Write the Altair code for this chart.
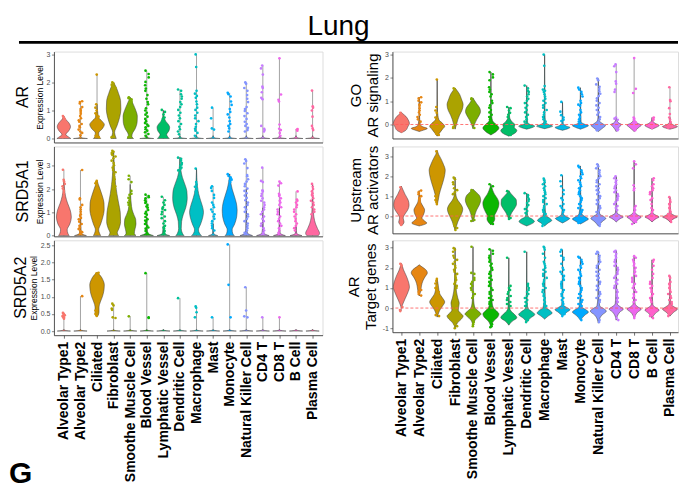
import altair as alt
import pandas as pd

cats = ["Alveolar Type1", "Alveolar Type2", "Ciliated", "Fibroblast", "Smoothe Muscle Cell",
        "Blood Vessel", "Lymphatic Vessel", "Dendritic Cell", "Macrophage", "Mast", "Monocyte",
        "Natural Killer Cell", "CD4 T", "CD8 T", "B Cell", "Plasma Cell"]
palette = ["#F8766D", "#E68613", "#CD9600", "#ABA300", "#7CAE00", "#0CB702", "#00BE67", "#00C19A",
           "#00BFC4", "#00B8E7", "#00A9FF", "#8494FF", "#C77CFF", "#ED68ED", "#FF61CC", "#FF68A1"]

# violin outlines: (value, half-width in category units)
spike0 = [(0.0, 0.42), (0.03, 0.08), (0.1, 0.01)]
flat0 = [(0.0, 0.4), (0.025, 0.05), (0.05, 0.0)]

ar_shapes = [
    [(0, 0.42), (0.05, 0.3), (0.14, 0.12), (0.28, 0.3), (0.42, 0.4), (0.56, 0.3), (0.68, 0.12), (0.8, 0.0)],
    spike0,
    [(0, 0.22), (0.08, 0.12), (0.2, 0.1), (0.35, 0.32), (0.5, 0.44), (0.62, 0.3), (0.75, 0.1), (1.0, 0.03), (1.22, 0.0)],
    [(0, 0.16), (0.1, 0.1), (0.22, 0.06), (0.45, 0.2), (0.75, 0.36), (1.05, 0.44), (1.35, 0.42), (1.6, 0.3), (1.85, 0.14), (2.0, 0.0)],
    [(0, 0.2), (0.08, 0.1), (0.16, 0.12), (0.35, 0.3), (0.6, 0.42), (0.8, 0.43), (1.0, 0.34), (1.2, 0.2), (1.35, 0.09), (1.47, 0.0)],
    spike0,
    [(0, 0.36), (0.05, 0.28), (0.14, 0.2), (0.28, 0.34), (0.4, 0.38), (0.52, 0.28), (0.62, 0.14), (0.78, 0.04), (1.0, 0.0)],
    spike0, spike0, spike0, spike0, spike0, spike0, spike0, spike0, spike0,
]
ar_points = [
    [0.8, 0.75, 0.72, 0.68, 0.6, 0.05],
    [1.33, 1.3, 1.25, 1.12, 1.05, 1.0, 0.95, 0.88, 0.8, 0.72, 0.65, 0.6, 0.52, 0.45, 0.4, 0.32, 0.25, 0.2, 0.12],
    [2.28, 1.22, 1.1, 1.0, 0.9, 0.85, 0.78, 0.1, 0.05],
    [2.0, 1.96, 1.92, 1.88, 1.85, 1.8, 1.76, 0.05],
    [1.47, 1.44, 1.4, 1.35, 1.3, 1.27, 0.05],
    [2.42, 2.3, 2.18, 2.02, 1.9, 1.78, 1.7, 1.55, 1.42, 1.3, 1.22, 1.08, 1.0, 0.92, 0.85, 0.78, 0.7, 0.62, 0.55, 0.5, 0.45, 0.4, 0.33, 0.28, 0.22, 0.16, 0.1],
    [1.02, 0.95, 0.86, 0.75, 0.7, 0.62, 0.55, 0.48],
    [1.75, 1.7, 1.58, 1.5, 1.42, 1.3, 1.22, 1.12, 1.02, 0.92, 0.82, 0.72, 0.62, 0.52, 0.42, 0.33, 0.25, 0.15],
    [3.0, 2.55, 1.7, 1.6, 1.52, 1.45, 1.32, 1.22, 1.1, 1.02, 0.92, 0.82, 0.72, 0.62, 0.52, 0.42, 0.35, 0.28, 0.2, 0.1],
    [1.1, 0.72, 0.36, 0.32],
    [1.63, 1.58, 1.5, 1.32, 1.2, 1.05, 0.95, 0.86, 0.75, 0.62, 0.52, 0.45, 0.36, 0.25],
    [2.0, 1.95, 1.8, 1.7, 1.55, 1.42, 1.3, 1.12, 1.05, 0.98, 0.9, 0.8, 0.7, 0.6, 0.52, 0.45, 0.38, 0.3, 0.25],
    [2.6, 2.5, 2.28, 1.85, 1.8, 1.65, 1.45, 1.4, 0.45, 0.35, 0.3, 0.25],
    [2.86, 1.57, 1.38, 1.32, 0.5, 0.35, 0.3, 0.2, 0.1],
    [0.34, 0.31, 0.28],
    [1.71, 1.15, 1.1, 1.0, 0.78, 0.45, 0.36, 0.3],
]

s1_shapes = [
    [(0, 0.32), (0.1, 0.24), (0.25, 0.2), (0.5, 0.36), (0.8, 0.45), (1.1, 0.38), (1.4, 0.22), (1.7, 0.1), (2.0, 0.04), (2.4, 0.0)],
    [(0, 0.36), (0.04, 0.2), (0.1, 0.06), (0.4, 0.03), (1.2, 0.01)],
    [(0, 0.22), (0.1, 0.15), (0.25, 0.1), (0.5, 0.22), (0.8, 0.35), (1.1, 0.43), (1.4, 0.42), (1.7, 0.32), (2.0, 0.18), (2.2, 0.08), (2.37, 0.0)],
    [(0, 0.3), (0.12, 0.22), (0.3, 0.32), (0.6, 0.42), (1.0, 0.4), (1.4, 0.3), (1.8, 0.2), (2.2, 0.12), (2.6, 0.07), (3.0, 0.04), (3.62, 0.0)],
    [(0, 0.35), (0.1, 0.25), (0.25, 0.28), (0.5, 0.35), (0.7, 0.33), (0.9, 0.22), (1.1, 0.12), (1.4, 0.06), (1.8, 0.02), (2.2, 0.0)],
    [(0, 0.4), (0.05, 0.2), (0.1, 0.06), (0.3, 0.03), (0.8, 0.01)],
    [(0, 0.38), (0.05, 0.16), (0.1, 0.05), (0.4, 0.02)],
    [(0, 0.25), (0.1, 0.15), (0.3, 0.08), (0.6, 0.1), (0.9, 0.2), (1.2, 0.35), (1.6, 0.44), (1.9, 0.42), (2.2, 0.3), (2.5, 0.15), (2.8, 0.06), (3.1, 0.02), (3.37, 0.0)],
    [(0, 0.3), (0.1, 0.18), (0.25, 0.12), (0.5, 0.25), (0.8, 0.38), (1.0, 0.42), (1.2, 0.38), (1.5, 0.25), (1.8, 0.13), (2.1, 0.06), (2.5, 0.02), (2.9, 0.0)],
    [(0, 0.28), (0.04, 0.12), (0.1, 0.03), (0.5, 0.01)],
    [(0, 0.28), (0.1, 0.18), (0.25, 0.15), (0.5, 0.3), (0.8, 0.42), (1.1, 0.45), (1.4, 0.4), (1.7, 0.28), (2.0, 0.15), (2.3, 0.06), (2.65, 0.0)],
    [(0, 0.38), (0.05, 0.2), (0.1, 0.08), (0.3, 0.03), (1.0, 0.015), (2.0, 0.0)],
    [(0, 0.38), (0.05, 0.18), (0.1, 0.06), (0.4, 0.02), (1.2, 0.0)],
    [(0, 0.36), (0.05, 0.16), (0.1, 0.05), (0.4, 0.02), (1.2, 0.0)],
    [(0, 0.36), (0.05, 0.14), (0.1, 0.04), (0.4, 0.015)],
    [(0, 0.35), (0.1, 0.42), (0.3, 0.3), (0.5, 0.18), (0.8, 0.08), (1.2, 0.03), (1.8, 0.01), (2.2, 0.0)],
]
s1_points = [
    [2.83, 2.4, 2.32, 2.22, 2.12, 2.02, 1.92, 1.82, 1.7],
    [2.82, 1.6, 1.55, 1.32, 1.22, 1.12, 1.02, 0.92, 0.85, 0.76, 0.7, 0.6, 0.5, 0.42, 0.35, 0.28, 0.2, 0.15, 0.1],
    [2.35, 2.3, 2.25, 2.2],
    [3.64, 3.6, 3.55, 3.5, 3.45, 3.4, 3.32, 3.22, 3.12, 3.02, 2.92, 2.82, 2.72, 2.62, 2.52, 2.42, 2.32, 2.22, 2.12, 2.02, 1.9, 1.8],
    [2.57, 2.42, 2.3, 1.92, 1.8, 1.75, 1.62, 1.52, 1.42, 1.32, 1.22],
    [1.76, 1.7, 1.65, 1.6, 1.52, 1.45, 1.4, 1.32, 1.25, 1.2, 1.1, 1.02, 0.95, 0.9, 0.8, 0.7, 0.65, 0.6, 0.5, 0.42, 0.35, 0.3, 0.2, 0.1],
    [1.67, 1.52, 1.42, 1.32, 1.22, 1.15, 1.1, 1.02, 0.92, 0.82, 0.75, 0.62, 0.52, 0.42, 0.35, 0.3, 0.2, 0.1],
    [3.35, 3.3, 3.22, 3.12, 3.05, 3.0, 2.92, 2.85, 2.8],
    [2.88, 2.3, 2.2, 2.1, 2.0, 1.9, 1.82],
    [2.12, 2.05, 1.92, 1.75, 1.62, 1.42, 1.32, 1.22, 1.12, 1.02, 0.92, 0.82, 0.72, 0.62, 0.52, 0.42, 0.32, 0.22],
    [2.64, 2.56, 2.5, 2.45, 2.4, 2.35, 2.3],
    [3.28, 3.2, 3.1, 2.9, 2.6, 2.55, 2.42, 2.32, 2.22, 2.12, 2.02, 1.92, 1.82, 1.72, 1.62, 1.52, 1.42, 1.32, 1.22, 1.12, 1.02, 0.92, 0.82, 0.72, 0.62, 0.52, 0.42, 0.32, 0.22, 0.12],
    [2.92, 2.35, 2.3, 1.95, 1.9, 1.8, 1.7, 1.6, 1.5, 1.42, 1.32, 1.22, 1.12, 1.02, 0.92, 0.82, 0.72, 0.62, 0.52, 0.42, 0.32, 0.22, 0.12],
    [2.32, 2.25, 2.15, 1.8, 1.75, 1.7, 1.6, 1.5, 1.42, 1.32, 1.22, 1.12, 1.02, 0.92, 0.82, 0.72, 0.62, 0.52, 0.42, 0.32, 0.22, 0.12],
    [1.9, 1.55, 1.5, 1.42, 1.32, 1.22, 1.12, 1.02, 0.92, 0.82, 0.72, 0.62, 0.52, 0.42, 0.32, 0.22],
    [2.22, 2.1, 2.0, 1.9, 1.82, 1.75, 1.7, 1.6, 1.5, 1.42, 1.32, 1.22, 1.12, 1.02, 0.92],
]

s2_shapes = [
    flat0, flat0,
    [(0.44, 0.05), (0.55, 0.12), (0.7, 0.12), (0.85, 0.2), (1.0, 0.32), (1.2, 0.42), (1.35, 0.44), (1.5, 0.35), (1.62, 0.2), (1.72, 0.0)],
    flat0, flat0, flat0, flat0, flat0, flat0, flat0, flat0, flat0, flat0, flat0, flat0, flat0,
]
s2_points = [
    [0.53, 0.5, 0.48, 0.46, 0.44, 0.42, 0.4, 0.38, 0.36],
    [1.02],
    [0.44, 0.47, 0.5, 0.55, 0.6, 1.68, 1.7],
    [0.8, 0.75, 0.66, 0.62, 0.4, 0.38],
    [0.43],
    [1.69, 0.4, 0.38],
    [],
    [0.96],
    [0.72, 0.68, 0.55, 0.4],
    [0.4],
    [2.53, 1.35, 0.4],
    [1.28, 0.6, 0.43, 0.4],
    [0.4],
    [0.4],
    [],
    [],
]

go_shapes = [
    [(-0.35, 0.0), (-0.25, 0.25), (-0.1, 0.36), (0.05, 0.45), (0.2, 0.38), (0.35, 0.25), (0.45, 0.1), (0.52, 0.0)],
    [(-0.3, 0.0), (-0.24, 0.25), (-0.17, 0.45), (-0.1, 0.2), (0.0, 0.06), (0.3, 0.02), (1.17, 0.0)],
    [(-0.5, 0.0), (-0.35, 0.15), (-0.2, 0.3), (-0.08, 0.42), (0.05, 0.3), (0.2, 0.1), (0.4, 0.04), (0.75, 0.01), (1.93, 0.0)],
    [(-0.2, 0.0), (0.0, 0.08), (0.2, 0.15), (0.4, 0.25), (0.6, 0.38), (0.85, 0.45), (1.1, 0.35), (1.3, 0.25), (1.45, 0.12), (1.57, 0.0)],
    [(-0.18, 0.0), (0.0, 0.08), (0.2, 0.2), (0.4, 0.35), (0.55, 0.42), (0.7, 0.38), (0.9, 0.2), (1.05, 0.07), (1.14, 0.0)],
    [(-0.45, 0.0), (-0.3, 0.3), (-0.15, 0.45), (0.0, 0.3), (0.15, 0.1), (0.4, 0.04), (1.0, 0.01), (2.25, 0.0)],
    [(-0.5, 0.0), (-0.35, 0.38), (-0.25, 0.45), (-0.12, 0.3), (0.0, 0.34), (0.1, 0.2), (0.3, 0.05), (0.75, 0.0)],
    [(-0.2, 0.0), (-0.12, 0.35), (-0.07, 0.45), (0.0, 0.2), (0.1, 0.05), (0.5, 0.02), (1.67, 0.0)],
    [(-0.18, 0.0), (-0.12, 0.3), (-0.07, 0.45), (0.0, 0.22), (0.1, 0.05), (0.5, 0.02), (3.0, 0.0)],
    [(-0.25, 0.0), (-0.18, 0.3), (-0.13, 0.42), (-0.06, 0.2), (0.05, 0.04), (0.97, 0.0)],
    [(-0.2, 0.0), (-0.1, 0.35), (-0.05, 0.45), (0.02, 0.2), (0.12, 0.04), (0.5, 0.02), (1.58, 0.0)],
    [(-0.3, 0.0), (-0.12, 0.3), (-0.05, 0.4), (0.03, 0.25), (0.15, 0.06), (0.3, 0.02), (1.97, 0.0)],
    [(-0.3, 0.0), (-0.08, 0.2), (0.0, 0.3), (0.06, 0.15), (0.2, 0.03), (0.3, 0.0)],
    [(-0.3, 0.0), (-0.1, 0.3), (-0.03, 0.4), (0.05, 0.2), (0.2, 0.03), (0.3, 0.0)],
    [(-0.2, 0.0), (-0.1, 0.3), (-0.04, 0.4), (0.04, 0.2), (0.15, 0.04), (0.3, 0.0)],
    [(-0.2, 0.0), (-0.14, 0.3), (-0.09, 0.42), (-0.02, 0.2), (0.1, 0.03), (0.3, 0.0)],
]
go_points = [
    [0.5, 0.45, -0.3, -0.25],
    [1.17, 1.12, 1.02, 0.95, 0.86, 0.8, 0.7, 0.6, 0.52, 0.42, 0.32, 0.22, 0.12],
    [1.93, 0.75, 0.6, 0.5, 0.3, -0.4, -0.45],
    [1.55, 1.5, -0.15, -0.1],
    [1.12, 1.08, -0.15],
    [2.25, 2.15, 2.02, 1.9, 1.6, 1.5, 1.4, 1.3, 1.2, 1.02, 0.92, 0.82, 0.72, 0.62, 0.52, 0.42, 0.32, 0.22],
    [0.75, 0.7, 0.6, 0.5, 0.42, 0.32, -0.45],
    [1.67, 1.55, 1.45, 1.4, 1.3, 1.2, 1.1, 1.02, 0.92, 0.82, 0.72, 0.62, 0.52, 0.42, 0.32, 0.22, 0.12],
    [3.0, 2.52, 1.65, 1.5, 1.45, 1.4, 1.3, 1.2, 1.1, 1.02, 0.92, 0.82, 0.72, 0.62, 0.52, 0.42, 0.32, 0.22, 0.12],
    [0.97, 0.55, 0.4, 0.3, 0.2, 0.15],
    [1.58, 1.5, 1.4, 1.3, 1.2, 1.02, 0.92, 0.85, 0.8, 0.62, 0.52, 0.42, 0.32, 0.22, 0.12],
    [1.97, 1.9, 1.72, 1.62, 1.52, 1.42, 1.32, 1.22, 1.12, 1.02, 0.92, 0.82, 0.72, 0.62, 0.52, 0.42, 0.32, 0.22, -0.25],
    [2.58, 2.5, 2.25, 1.85, 1.75, 1.5, 1.4, 0.3, 0.25, 0.2, -0.2, -0.25],
    [2.85, 1.53, 1.35, 0.3, 0.25, 0.2, 0.1, -0.2, -0.25],
    [0.3, 0.25, 0.2, -0.15],
    [1.6, 1.05, 1.0, 0.7, 0.45, 0.3, 0.2, 0.1, -0.15],
]

up_shapes = [
    [(-0.5, 0.0), (-0.3, 0.15), (-0.1, 0.1), (0.1, 0.2), (0.3, 0.35), (0.55, 0.43), (0.8, 0.38), (1.1, 0.2), (1.3, 0.1), (1.5, 0.0)],
    [(-0.5, 0.0), (-0.35, 0.42), (-0.25, 0.3), (-0.1, 0.15), (0.1, 0.25), (0.3, 0.3), (0.5, 0.2), (0.7, 0.08), (1.0, 0.03), (1.28, 0.0)],
    [(0.55, 0.0), (0.8, 0.06), (1.1, 0.12), (1.5, 0.25), (1.9, 0.38), (2.3, 0.45), (2.6, 0.35), (2.9, 0.2), (3.1, 0.08), (3.3, 0.0)],
    [(-0.7, 0.0), (-0.5, 0.08), (-0.3, 0.15), (-0.1, 0.25), (0.15, 0.38), (0.35, 0.43), (0.55, 0.35), (0.8, 0.15), (1.0, 0.06), (1.3, 0.02), (1.95, 0.0)],
    [(-0.3, 0.0), (-0.1, 0.07), (0.1, 0.12), (0.3, 0.2), (0.55, 0.35), (0.8, 0.43), (1.0, 0.38), (1.2, 0.18), (1.35, 0.0)],
    [(-0.45, 0.0), (-0.3, 0.15), (-0.15, 0.22), (0.0, 0.2), (0.2, 0.3), (0.45, 0.42), (0.65, 0.45), (0.9, 0.35), (1.1, 0.2), (1.3, 0.1), (1.6, 0.0)],
    [(-0.15, 0.0), (0.0, 0.08), (0.15, 0.15), (0.35, 0.3), (0.6, 0.43), (0.8, 0.42), (1.0, 0.25), (1.15, 0.1), (1.28, 0.0)],
    [(-0.5, 0.0), (-0.38, 0.3), (-0.28, 0.43), (-0.15, 0.3), (-0.05, 0.1), (0.1, 0.04), (0.5, 0.02), (1.15, 0.0)],
    [(-0.5, 0.0), (-0.35, 0.2), (-0.22, 0.4), (-0.12, 0.3), (0.0, 0.1), (0.3, 0.04), (1.0, 0.01), (1.88, 0.0)],
    [(-0.35, 0.0), (-0.2, 0.3), (-0.12, 0.4), (-0.05, 0.25), (0.1, 0.05), (0.5, 0.015), (2.05, 0.0)],
    [(-0.4, 0.0), (-0.25, 0.3), (-0.15, 0.45), (-0.05, 0.3), (0.1, 0.08), (0.5, 0.03), (2.52, 0.0)],
    [(-0.5, 0.0), (-0.25, 0.25), (-0.12, 0.42), (-0.02, 0.3), (0.1, 0.08), (0.5, 0.03), (2.6, 0.0)],
    [(-0.3, 0.0), (-0.12, 0.25), (-0.05, 0.4), (0.03, 0.25), (0.15, 0.05), (0.5, 0.02), (2.0, 0.0)],
    [(-0.4, 0.0), (-0.15, 0.25), (-0.05, 0.4), (0.05, 0.2), (0.2, 0.04), (0.5, 0.01), (2.75, 0.0)],
    [(-0.3, 0.0), (-0.12, 0.25), (-0.05, 0.4), (0.04, 0.22), (0.15, 0.05), (0.5, 0.02), (1.9, 0.0)],
    [(-0.3, 0.0), (-0.12, 0.25), (-0.05, 0.42), (0.03, 0.25), (0.15, 0.05), (0.5, 0.02), (0.95, 0.0)],
]
up_points = [
    [1.45, -0.45],
    [1.28, 1.2, 1.1, 1.0, 0.9, 0.8, 0.7, 0.6],
    [0.6, 0.7, 0.8, 0.9, 1.0, 3.25],
    [1.93, 1.85, 1.7, 1.6, 1.4, 1.3, 1.2, 1.1, -0.2, -0.3, -0.4, -0.5, -0.6, -0.7],
    [1.3, -0.25, -0.2],
    [1.6, 1.5, -0.4],
    [1.25, -0.1, -0.15],
    [1.15, 1.05, 0.95, 0.85, 0.75, 0.65, 0.55, 0.45, 0.35, 0.25, 0.15, 0.05],
    [1.88, 1.8, 1.7, 1.6, 1.5, 1.4, 1.3, 1.2, 1.1, 1.0, 0.9, 0.8, 0.7, 0.6, 0.5, 0.4, 0.3, 0.2, 0.1, -0.4, -0.5],
    [2.05, 1.75, 1.5, 1.3, 1.1, 0.9, 0.8, 0.6, 0.5, 0.4, 0.3, 0.2],
    [2.52, 2.45, 2.3, 2.2, 2.1, 2.0, 1.9, 1.8, 1.7, 1.6, 1.5, 1.4, 1.3, 1.2, 1.1, 1.0, 0.9, 0.8, 0.7, 0.6, 0.5, 0.4, 0.3, 0.2, -0.35],
    [2.6, 2.5, 2.4, 2.3, 2.2, 2.1, 2.0, 1.9, 1.8, 1.7, 1.6, 1.5, 1.4, 1.3, 1.2, 1.1, 1.0, 0.9, 0.8, 0.7, 0.6, 0.5, 0.4, 0.3, 0.2, -0.4, -0.5],
    [2.0, 1.9, 1.8, 1.7, 1.6, 1.5, 1.4, 1.3, 1.2, 1.1, 1.0, 0.9, 0.8, 0.7, 0.6, 0.5, 0.4, 0.3],
    [2.75, 2.6, 2.4, 1.55, 1.4, 1.3, 0.5, 0.4, 0.3, 0.2, -0.3, -0.4],
    [1.9, 1.8, 1.6, 1.5, 1.4, 1.3, 1.2, 1.1, 0.9, 0.8, 0.6, 0.4, 0.3, 0.2],
    [0.95, 0.8, 0.7, 0.6, 0.5, 0.4, 0.3, 0.2, 0.1, -0.2, -0.3],
]

tg_shapes = [
    [(0.0, 0.0), (0.2, 0.08), (0.45, 0.2), (0.75, 0.35), (1.05, 0.45), (1.35, 0.38), (1.65, 0.25), (1.9, 0.12), (2.1, 0.05), (2.22, 0.0)],
    [(0.6, 0.0), (0.85, 0.08), (1.1, 0.12), (1.35, 0.2), (1.55, 0.32), (1.75, 0.45), (1.92, 0.35), (2.05, 0.15), (2.15, 0.0)],
    [(-0.45, 0.0), (-0.3, 0.06), (-0.1, 0.15), (0.1, 0.3), (0.3, 0.42), (0.5, 0.3), (0.7, 0.15), (1.0, 0.08), (1.2, 0.05), (1.45, 0.0)],
    [(-1.0, 0.0), (-0.75, 0.12), (-0.55, 0.35), (-0.4, 0.45), (-0.25, 0.3), (-0.1, 0.18), (0.05, 0.2), (0.25, 0.23), (0.5, 0.15), (0.8, 0.08), (1.2, 0.04), (2.0, 0.015), (3.0, 0.0)],
    [(-0.9, 0.0), (-0.6, 0.12), (-0.4, 0.35), (-0.3, 0.45), (-0.15, 0.3), (0.0, 0.12), (0.2, 0.06), (0.5, 0.03), (1.0, 0.01), (3.05, 0.0)],
    [(-0.95, 0.0), (-0.65, 0.15), (-0.45, 0.38), (-0.3, 0.45), (-0.15, 0.32), (0.0, 0.15), (0.2, 0.08), (0.6, 0.04), (1.2, 0.02), (2.92, 0.0)],
    [(-0.85, 0.0), (-0.65, 0.2), (-0.48, 0.45), (-0.3, 0.3), (-0.15, 0.12), (0.0, 0.05), (0.5, 0.02), (2.5, 0.0)],
    [(-0.7, 0.0), (-0.5, 0.2), (-0.32, 0.45), (-0.18, 0.3), (-0.05, 0.1), (0.2, 0.03), (1.2, 0.01), (2.8, 0.0)],
    [(-0.55, 0.0), (-0.4, 0.2), (-0.25, 0.42), (-0.12, 0.3), (0.0, 0.1), (0.3, 0.04), (1.5, 0.015), (3.05, 0.0)],
    [(-0.4, 0.0), (-0.2, 0.25), (-0.08, 0.42), (0.02, 0.25), (0.15, 0.05), (0.6, 0.02), (2.9, 0.0)],
    [(-0.6, 0.0), (-0.35, 0.25), (-0.2, 0.45), (-0.08, 0.3), (0.05, 0.08), (0.5, 0.03), (2.55, 0.0)],
    [(-0.75, 0.0), (-0.35, 0.2), (-0.15, 0.45), (-0.03, 0.3), (0.1, 0.08), (0.5, 0.03), (2.8, 0.0)],
    [(-0.6, 0.0), (-0.2, 0.2), (-0.05, 0.4), (0.05, 0.25), (0.2, 0.06), (0.6, 0.03), (2.85, 0.0)],
    [(-0.5, 0.0), (-0.2, 0.2), (-0.05, 0.4), (0.05, 0.22), (0.2, 0.06), (0.6, 0.02), (2.58, 0.0)],
    [(-0.5, 0.0), (-0.25, 0.2), (-0.1, 0.4), (0.0, 0.25), (0.15, 0.05), (0.6, 0.02), (2.4, 0.0)],
    [(-0.4, 0.0), (-0.2, 0.22), (-0.05, 0.42), (0.05, 0.25), (0.2, 0.05), (0.6, 0.02), (1.6, 0.0)],
]
tg_points = [
    [2.2, 2.15, 2.1, 0.05, -0.1, -0.15],
    [0.62, 0.7, 0.8, 0.9, 1.0, 1.1, 1.2, 1.3],
    [1.45, 1.35, 1.22, 1.1, 1.0, 0.9, 0.8, -0.35, -0.4],
    [2.98, 2.9, 2.8, 2.6, 2.5, 2.4, 2.3, 2.2, 2.1, 2.0, 1.9, 1.8, 1.7, 1.6, 1.5, 1.4, 1.3, 1.2, 1.1, 1.0, -0.8, -0.9, -1.0],
    [3.05, 1.75, 1.7, 1.5, 1.4, 1.3, 1.2, 1.1, 1.0, 0.9, 0.8, 0.7, 0.6, 0.5, -0.7, -0.8, -0.9],
    [2.92, 2.85, 2.7, 2.6, 2.5, 2.4, 2.3, 2.2, 2.1, 2.0, 1.9, 1.8, 1.7, 1.6, 1.5, 1.4, 1.3, 1.2, 1.1, 1.0, 0.9, 0.8, 0.7, 0.6, 0.5, 0.4, 0.3, 0.2, -0.8, -0.9, -0.95],
    [2.5, 1.1, 1.0, 0.9, 0.8, 0.7, 0.6, 0.5, 0.4, 0.3, 0.2, 0.1],
    [2.8, 1.2, 1.1, 1.0, 0.9, 0.8, 0.7, 0.6, 0.5, 0.4, 0.3, 0.2, 0.1, -0.6, -0.7],
    [3.05, 3.0, 2.9, 2.7, 2.5, 2.3, 2.2, 2.1, 2.0, 1.9, 1.8, 1.7, 1.6, 1.5, 1.4, 1.3, 1.2, 1.1, 1.0, 0.9, 0.8, 0.7, 0.6, 0.5, 0.4, 0.3, 0.2, 0.1],
    [2.9, 2.8, 2.6, 2.5, 2.4, 2.2, 2.0, 1.9, 1.8, 1.7, 1.6, 1.5, 1.4, 1.3, 1.2, 1.1, 1.0, 0.9, 0.8, 0.7, 0.6, 0.5, 0.4, 0.3, 0.2, -0.3, -0.4],
    [2.55, 2.5, 2.4, 2.3, 2.2, 2.1, 2.0, 1.9, 1.8, 1.7, 1.6, 1.5, 1.4, 1.3, 1.2, 1.1, 1.0, 0.9, 0.8, 0.7, 0.6, 0.5, 0.4, 0.3, 0.2, 0.1, -0.5, -0.6],
    [2.8, 2.75, 2.7, 2.6, 2.5, 2.4, 2.3, 2.2, 2.1, 2.0, 1.9, 1.8, 1.7, 1.6, 1.5, 1.4, 1.3, 1.2, 1.1, 1.0, 0.9, 0.8, 0.7, 0.6, 0.5, 0.4, 0.3, -0.6, -0.7],
    [2.85, 2.8, 2.7, 2.6, 2.5, 2.4, 2.3, 2.2, 2.1, 2.0, 1.9, 1.8, 1.7, 1.6, 1.5, 1.4, 1.3, 1.2, 1.1, 1.0, 0.9, 0.8, 0.7, 0.6, 0.5, 0.4, 0.3, -0.5, -0.6],
    [2.58, 2.5, 2.4, 2.3, 2.2, 2.1, 2.0, 1.9, 1.8, 1.7, 1.6, 1.5, 1.4, 1.3, 1.2, 1.1, 1.0, 0.9, 0.8, 0.7, 0.6, 0.5, 0.4, 0.3, -0.4, -0.5],
    [2.4, 2.3, 2.1, 1.9, 1.7, 1.5, 1.3, 1.2, 1.1, 1.0, 0.9, 0.8, 0.7, 0.6, 0.5, 0.4, 0.3, -0.4, -0.5],
    [1.6, 1.5, 1.3, 1.2, 1.1, 1.0, 0.9, 0.8, 0.7, 0.6, 0.5, 0.4, 0.3, 0.2, -0.3, -0.4],
]

FONT = "Liberation Sans"
label_expr = "[" + ",".join("'" + c + "'" for c in cats) + "][datum.value - 1]"
color = alt.Color("cat:N", scale=alt.Scale(domain=cats, range=palette), legend=None)


def frames(shapes, pts):
    vrows, prow, rrow = [], [], []
    for i, c in enumerate(cats):
        for (y, hw) in shapes[i]:
            vrows.append({"cat": c, "y": y, "lo": i + 1 - hw, "hi": i + 1 + hw})
        for v in pts[i]:
            prow.append({"cat": c, "idx": i + 1, "v": v})
        ys = [s[0] for s in shapes[i]] + list(pts[i])
        rrow.append({"cat": c, "idx": i + 1, "lo": min(ys), "hi": max(ys)})
    return pd.DataFrame(vrows), pd.DataFrame(prow), pd.DataFrame(rrow)


def x_axis(bottom):
    if bottom:
        return alt.Axis(values=list(range(1, 17)), labelExpr=label_expr, labelAngle=-90,
                        labelFontSize=14, labelFontWeight="bold", labelColor="black", labelFont=FONT,
                        labelPadding=3, labelOverlap=False, labelLimit=400, tickSize=3,
                        tickColor="#333333", tickWidth=0.7, domainColor="#333333", domainWidth=0.8,
                        grid=False, title=None)
    return alt.Axis(labels=False, ticks=False, domainColor="#333333", domainWidth=0.8, grid=False, title=None)


def y_axis(side, vals, lexpr, title):
    common = dict(values=vals, labelExpr=lexpr, grid=False, title=title, titleFontWeight="normal",
                  titleColor="black", titleFont=FONT, labelFontSize=7, labelColor="#4d4d4d",
                  labelPadding=1.5, tickSize=2.5, tickColor="#333333", tickWidth=0.6,
                  domainColor="#333333", domainWidth=0.8, minExtent=0)
    if side == "left":
        return alt.Axis(titleFontSize=8.5, titlePadding=2, **common)
    return alt.Axis(titleFontSize=15, titleLineHeight=17, titlePadding=4, **common)


def panel(shapes, pts, xdom, ydom, yvals, lexpr, ytitle, width, height, bottom, side,
          row_title=None, title_offset=4, extra=()):
    vdf, pdf, rdf = frames(shapes, pts)
    xs = alt.Scale(domain=xdom, nice=False, zero=False)
    ys = alt.Scale(domain=ydom, nice=False, zero=False)
    xa = x_axis(bottom)
    ya = y_axis(side, yvals, lexpr, ytitle)
    rules = alt.Chart(rdf).mark_rule(color="#8c8c8c", strokeWidth=0.8).encode(
        x=alt.X("idx:Q", scale=xs, axis=xa),
        y=alt.Y("lo:Q", scale=ys, axis=ya), y2="hi:Q")
    areas = alt.Chart(vdf).mark_area(orient="horizontal", interpolate="monotone", stroke="#3a3a3a",
                                     strokeWidth=0.5, opacity=1).encode(
        x=alt.X("lo:Q", scale=xs, axis=xa, stack=False), x2="hi:Q",
        y=alt.Y("y:Q", scale=ys, axis=ya), color=color)
    # deterministic hash spread of the dots around the category centre (like geom_jitter)
    points = alt.Chart(pdf).transform_window(
        rn="row_number()", groupby=["cat"]
    ).transform_calculate(
        xj="datum.idx + (((abs(sin(datum.rn * 12.9898 + datum.idx * 78.233)) * 43758.5453) % 1) - 0.5) * 0.24"
    ).mark_circle(size=7, opacity=1).encode(
        x=alt.X("xj:Q", scale=xs, axis=xa), y=alt.Y("v:Q", scale=ys, axis=ya), color=color)
    layers = [rules, areas, points]
    if side == "right":
        zero = alt.Chart(pd.DataFrame({"z": [0.0]})).mark_rule(
            color="#ff5c5c", strokeDash=[3, 2], strokeWidth=1, opacity=0.85
        ).encode(y=alt.Y("z:Q", scale=ys, axis=ya))
        layers.append(zero)
    layers += list(extra)
    ch = alt.layer(*layers).properties(width=width, height=height)
    if row_title:
        ch = ch.properties(title=alt.TitleParams(text=row_title, orient="left", fontSize=16,
                                                 fontWeight="normal", font=FONT, offset=title_offset,
                                                 color="black"))
    return ch


LX = [0.4, 16.6]
RX = [0.5, 16.45]
int_lbl = "'' + datum.value"
dec_lbl = "format(datum.value, '.1f')"

# figure annotations (section title with its underline, panel letter); placed in the
# right-hand panels so they do not push the left row titles around
note_df = pd.DataFrame({"t": ["Lung"]})
lung_text = alt.Chart(note_df).mark_text(fontSize=28, font=FONT, align="center", baseline="alphabetic",
                                         color="black").encode(
    text="t:N", x=alt.value(-54), y=alt.value(-16.7))
lung_rule = alt.Chart(note_df).mark_rule(strokeWidth=2.7, color="black").encode(
    x=alt.value(-374), x2=alt.value(286), y=alt.value(-9.3))
g_text = alt.Chart(pd.DataFrame({"t": ["G"]})).mark_text(
    fontSize=30, fontWeight="bold", font=FONT, align="left", baseline="alphabetic"
).encode(text="t:N", x=alt.value(-384), y=alt.value(243))

L1 = panel(ar_shapes, ar_points, LX, [-0.14, 3.1], [0, 1, 2, 3], int_lbl, "Expression Level",
           269, 91, False, "left", "AR", 4)
L2 = panel(s1_shapes, s1_points, LX, [-0.03, 3.83], [0, 1, 2, 3], int_lbl, "Expression Level",
           269, 90, False, "left", "SRD5A1", 4)
L3 = panel(s2_shapes, s2_points, LX, [-0.12, 2.65], [0, 0.5, 1, 1.5, 2, 2.5], dec_lbl, "Expression Level",
           269, 95, True, "left", "SRD5A2", 0)

R1 = panel(go_shapes, go_points, RX, [-0.6, 3.13], [0, 1, 2, 3], int_lbl, ["GO", "AR signaling"],
           286, 87, False, "right", extra=[lung_rule, lung_text])
R2 = panel(up_shapes, up_points, RX, [-0.87, 3.5], [0, 1, 2, 3], int_lbl, ["Upstream", "AR activators"],
           286, 87, False, "right")
R3 = panel(tg_shapes, tg_points, RX, [-1.2, 3.37], [-1, 0, 1, 2, 3], int_lbl, ["AR", "Target genes"],
           286, 92, True, "right", extra=[g_text])

chart = alt.concat(L1, R1, L2, R2, L3, R3, columns=2,
                   spacing=alt.RowColnumber(row=4, column=70), bounds="flush").properties(
    padding={"left": 0, "top": 3.3, "right": 0, "bottom": 0}
).configure_view(stroke=None).configure(font=FONT)

chart.save("out.html", embed_options={"renderer": "svg", "actions": False})
